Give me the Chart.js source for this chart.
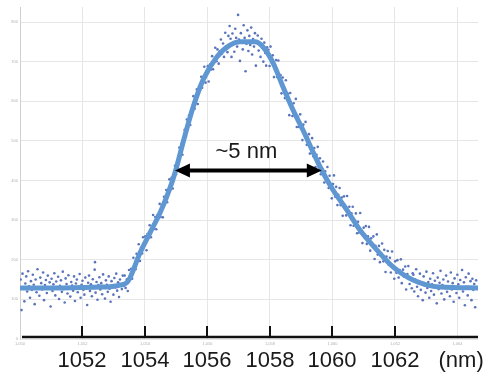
<!DOCTYPE html>
<html lang="en">
<head>
    <meta charset="UTF-8">
    <title>Spectrum FWHM</title>
    <script src="https://cdn.jsdelivr.net/npm/chart.js"></script>
    <style>
        * {
            margin: 0;
            padding: 0;
            box-sizing: border-box;
        }

        body {
            background: white;
        }

        .chart-box {
            width: 486px;
            height: 376px;
        }
    </style>
</head>
<body>
    <div class="chart-box">
        <canvas id="spectrum-chart"></canvas>
    </div>

    <script>
        // axis ticks
        const xTicks = [1050, 1052, 1054, 1056, 1058, 1060, 1062, 1064];
        const yTicks = [0, 100, 200, 300, 400, 500, 600, 700, 800];
        const bigAxisLabels = [1052, 1054, 1056, 1058, 1060, 1062];
        const unitLabel = '(nm)';

        // smooth fit curve (wavelength nm, counts)
        const fitWavelength = [1050.0, 1051.3, 1052.6, 1053.2, 1053.46, 1053.84, 1054.16, 1054.48, 1054.74, 1054.96,
            1055.28, 1055.54, 1055.86, 1056.3, 1056.72, 1057.04, 1057.52, 1057.78, 1058.1, 1058.42,
            1058.74, 1059.06, 1059.38, 1059.66, 1060.02, 1060.46, 1060.88, 1061.42, 1061.94, 1062.58,
            1063.44, 1064.66];
        const fitCounts = [129, 129, 131, 136, 146, 217, 268, 318, 368, 419,
            514, 585, 654, 712, 742, 750, 750, 737, 697, 636,
            578, 527, 472, 426, 376, 326, 275, 225, 182, 149,
            131, 129];

        // measured points, [nm, counts]
        const baseLeftDots = [
            [1050.02, 150], [1050.05, 73], [1050.08, 165], [1050.11, 128], [1050.14, 95], [1050.17, 140], [1050.2, 158],
            [1050.23, 120], [1050.26, 171], [1050.29, 133], [1050.32, 104], [1050.35, 146], [1050.38, 124], [1050.41, 162],
            [1050.44, 137], [1050.47, 88], [1050.5, 150], [1050.53, 118], [1050.56, 176], [1050.59, 130], [1050.62, 109],
            [1050.65, 155], [1050.68, 141], [1050.71, 125], [1050.74, 168], [1050.77, 98], [1050.8, 136], [1050.83, 149],
            [1050.86, 116], [1050.89, 160], [1050.92, 127], [1050.95, 143], [1050.98, 82], [1051.01, 152], [1051.04, 121],
            [1051.07, 138], [1051.1, 166], [1051.13, 110], [1051.16, 145], [1051.19, 131], [1051.22, 157], [1051.25, 101],
            [1051.28, 134], [1051.31, 148], [1051.34, 119], [1051.37, 170], [1051.4, 126], [1051.43, 92], [1051.46, 153],
            [1051.49, 139], [1051.52, 115], [1051.55, 161], [1051.58, 129], [1051.61, 107], [1051.64, 144], [1051.67, 135],
            [1051.7, 122], [1051.73, 158], [1051.76, 96], [1051.79, 140], [1051.82, 150], [1051.85, 118], [1051.88, 132],
            [1051.91, 164], [1051.94, 104], [1051.97, 137], [1052.0, 147], [1052.03, 124], [1052.06, 112], [1052.09, 155],
            [1052.12, 133], [1052.15, 86], [1052.18, 142], [1052.21, 160], [1052.24, 121], [1052.27, 138], [1052.3, 108],
            [1052.33, 151], [1052.36, 129], [1052.39, 175], [1052.4, 194], [1052.42, 117], [1052.45, 144], [1052.48, 99],
            [1052.51, 136], [1052.54, 156], [1052.57, 125], [1052.6, 141], [1052.63, 113], [1052.66, 163], [1052.69, 131],
            [1052.72, 102], [1052.75, 148], [1052.78, 137], [1052.81, 119], [1052.84, 158], [1052.87, 127], [1052.9, 94],
            [1052.93, 146], [1052.96, 135], [1052.99, 112], [1053.02, 154], [1053.05, 130], [1053.08, 165], [1053.11, 122],
            [1053.14, 143], [1053.17, 106], [1053.2, 150], [1053.23, 138], [1053.26, 126], [1053.29, 160], [1053.32, 134]
        ];
        const riseDots = [
            [1053.35, 160], [1053.38, 129], [1053.42, 151], [1053.45, 121], [1053.49, 174], [1053.52, 154], [1053.56, 177],
            [1053.59, 152], [1053.63, 205], [1053.66, 185], [1053.7, 176], [1053.73, 215], [1053.77, 197], [1053.8, 239],
            [1053.84, 197], [1053.87, 230], [1053.91, 216], [1053.94, 257], [1053.98, 238], [1054.01, 259], [1054.05, 224],
            [1054.08, 265], [1054.12, 256], [1054.15, 287], [1054.19, 257], [1054.22, 281], [1054.26, 313], [1054.29, 278],
            [1054.33, 308], [1054.36, 277], [1054.4, 313], [1054.43, 306], [1054.47, 341], [1054.5, 308], [1054.54, 338],
            [1054.57, 307], [1054.61, 359], [1054.64, 347], [1054.68, 376], [1054.71, 345], [1054.75, 375], [1054.78, 403],
            [1054.82, 378], [1054.85, 407], [1054.89, 380], [1054.92, 413], [1054.96, 437], [1054.99, 416], [1055.03, 448],
            [1055.06, 430], [1055.1, 483], [1055.13, 466], [1055.17, 493], [1055.2, 465], [1055.24, 508], [1055.27, 528],
            [1055.31, 511], [1055.34, 554], [1055.38, 538], [1055.41, 564], [1055.45, 540], [1055.48, 578], [1055.52, 573],
            [1055.55, 613], [1055.59, 581], [1055.62, 606], [1055.66, 630], [1055.69, 593], [1055.73, 636], [1055.76, 627],
            [1055.8, 662], [1055.83, 634], [1055.87, 662], [1055.9, 687], [1055.94, 647], [1055.97, 671], [1056.01, 689],
            [1056.04, 650], [1056.08, 693], [1056.11, 680], [1056.15, 714], [1056.18, 681], [1056.22, 706], [1056.25, 735],
            [1056.29, 701], [1056.32, 731], [1056.36, 695], [1056.39, 726], [1056.43, 756], [1056.46, 720], [1056.5, 746],
            [1056.53, 712], [1056.57, 773], [1056.6, 739], [1056.64, 724], [1056.67, 765]
        ];
        const peakDots = [
            [1056.71, 790], [1056.74, 758], [1056.77, 712], [1056.8, 771], [1056.83, 745], [1056.86, 725], [1056.89, 783],
            [1056.92, 760], [1056.95, 738], [1056.98, 818], [1057.01, 756], [1057.04, 702], [1057.07, 772], [1057.1, 748],
            [1057.13, 731], [1057.16, 792], [1057.19, 760], [1057.22, 676], [1057.25, 745], [1057.28, 779], [1057.31, 727],
            [1057.34, 765], [1057.37, 742], [1057.4, 786], [1057.43, 718], [1057.46, 757], [1057.49, 738], [1057.52, 772],
            [1057.55, 690], [1057.58, 750], [1057.61, 766], [1057.64, 728], [1057.67, 745], [1057.7, 712], [1057.73, 758],
            [1057.76, 735], [1057.79, 700], [1057.82, 748], [1057.85, 722], [1057.88, 690], [1057.91, 736]
        ];
        const fallDots = [
            [1057.95, 730], [1057.99, 689], [1058.02, 738], [1058.06, 697], [1058.09, 716], [1058.13, 661], [1058.16, 692],
            [1058.2, 704], [1058.23, 661], [1058.27, 703], [1058.3, 657], [1058.34, 666], [1058.37, 620], [1058.41, 660],
            [1058.44, 636], [1058.48, 608], [1058.51, 653], [1058.55, 604], [1058.58, 619], [1058.62, 565], [1058.65, 621],
            [1058.69, 588], [1058.72, 563], [1058.76, 595], [1058.79, 564], [1058.83, 606], [1058.86, 535], [1058.9, 561],
            [1058.93, 535], [1058.97, 567], [1059.0, 540], [1059.04, 502], [1059.07, 541], [1059.11, 514], [1059.14, 548],
            [1059.18, 490], [1059.21, 509], [1059.25, 517], [1059.28, 468], [1059.32, 484], [1059.35, 507], [1059.39, 461],
            [1059.42, 482], [1059.46, 434], [1059.49, 465], [1059.53, 485], [1059.56, 435], [1059.6, 456], [1059.63, 416],
            [1059.67, 431], [1059.7, 448], [1059.74, 395], [1059.77, 423], [1059.81, 402], [1059.84, 434], [1059.88, 381],
            [1059.91, 412], [1059.95, 387], [1059.98, 355], [1060.02, 391], [1060.05, 413], [1060.09, 359], [1060.12, 384],
            [1060.16, 338], [1060.19, 364], [1060.23, 381], [1060.26, 338], [1060.3, 357], [1060.33, 311], [1060.37, 360],
            [1060.4, 335], [1060.44, 312], [1060.47, 361], [1060.51, 315], [1060.54, 334], [1060.58, 287], [1060.61, 317],
            [1060.65, 334], [1060.68, 286], [1060.72, 299], [1060.75, 317], [1060.79, 267], [1060.82, 296], [1060.86, 269],
            [1060.89, 318], [1060.93, 273], [1060.96, 242], [1061.0, 281], [1061.03, 257], [1061.07, 285], [1061.1, 240],
            [1061.14, 259], [1061.17, 283], [1061.21, 223], [1061.24, 254], [1061.28, 236], [1061.31, 259], [1061.35, 202],
            [1061.38, 235], [1061.42, 264], [1061.45, 213], [1061.49, 235], [1061.52, 194], [1061.56, 216], [1061.59, 241],
            [1061.63, 196], [1061.66, 225], [1061.7, 169], [1061.73, 208], [1061.77, 222], [1061.8, 188], [1061.84, 205],
            [1061.87, 168], [1061.91, 221], [1061.94, 181], [1061.98, 152], [1062.01, 196], [1062.05, 167], [1062.08, 199],
            [1062.12, 155], [1062.15, 174], [1062.19, 201], [1062.22, 141], [1062.26, 175], [1062.29, 157], [1062.33, 183],
            [1062.36, 125], [1062.4, 164], [1062.43, 184], [1062.47, 139], [1062.5, 154], [1062.54, 128], [1062.57, 166]
        ];
        const baseRightDots = [
            [1062.59, 162], [1062.62, 120], [1062.65, 150], [1062.68, 176], [1062.71, 132], [1062.74, 108], [1062.77, 146],
            [1062.8, 165], [1062.83, 124], [1062.86, 140], [1062.89, 98], [1062.92, 158], [1062.95, 135], [1062.98, 117],
            [1063.01, 170], [1063.04, 129], [1063.07, 144], [1063.1, 104], [1063.13, 152], [1063.16, 121], [1063.19, 138],
            [1063.22, 166], [1063.25, 112], [1063.28, 147], [1063.31, 130], [1063.34, 90], [1063.37, 155], [1063.4, 126],
            [1063.43, 142], [1063.46, 172], [1063.49, 115], [1063.52, 136], [1063.55, 150], [1063.58, 100], [1063.61, 128],
            [1063.64, 160], [1063.67, 119], [1063.7, 145], [1063.73, 133], [1063.76, 108], [1063.79, 168], [1063.82, 125],
            [1063.85, 141], [1063.88, 94], [1063.91, 153], [1063.94, 131], [1063.97, 116], [1064.0, 162], [1064.03, 138],
            [1064.06, 104], [1064.09, 149], [1064.12, 127], [1064.15, 174], [1064.18, 120], [1064.21, 143], [1064.24, 85],
            [1064.27, 156], [1064.3, 132], [1064.33, 110], [1064.36, 165], [1064.39, 128], [1064.42, 146], [1064.45, 98],
            [1064.48, 152], [1064.51, 124], [1064.54, 139], [1064.57, 80], [1064.6, 148]
        ];

        // full width at half maximum marker
        const fwhmStart = 1054.96;
        const fwhmEnd = 1059.66;
        const fwhmLevel = 425;
        const fwhmText = '~5 nm';

        const allDots = [...baseLeftDots, ...riseDots, ...peakDots, ...fallDots, ...baseRightDots]
            .map(p => ({ x: p[0], y: p[1] }));
        const fitPoints = fitWavelength.map((w, i) => ({ x: w, y: fitCounts[i] }));

        const bigFont = '22px "Liberation Sans", Arial, sans-serif';

        function drawArrowHead(ctx, tipX, tipY, dir) {
            ctx.beginPath();
            ctx.moveTo(tipX, tipY);
            ctx.lineTo(tipX + dir * 15, tipY - 7);
            ctx.lineTo(tipX + dir * 15, tipY + 7);
            ctx.closePath();
            ctx.fill();
        }

        const overlayPlugin = {
            id: 'overlay',
            afterDraw(chart) {
                const { ctx, chartArea } = chart;
                const x = chart.scales.x;
                const y = chart.scales.y;
                const axisY = chartArea.bottom - 2;

                ctx.save();
                ctx.strokeStyle = '#111';
                ctx.fillStyle = '#1a1a1a';
                ctx.lineWidth = 2.5;
                ctx.beginPath();
                ctx.moveTo(chartArea.left + 2, axisY);
                ctx.lineTo(chartArea.right, axisY);
                ctx.stroke();

                ctx.lineWidth = 2;
                ctx.font = bigFont;
                ctx.textAlign = 'center';
                ctx.textBaseline = 'alphabetic';
                bigAxisLabels.forEach(v => {
                    const px = Math.round(x.getPixelForValue(v));
                    ctx.beginPath();
                    ctx.moveTo(px, axisY);
                    ctx.lineTo(px, axisY - 11);
                    ctx.stroke();
                    ctx.fillText(String(v), px, 367);
                });
                ctx.fillText(unitLabel, x.getPixelForValue(1064.12), 367);

                // FWHM arrow
                const x1 = x.getPixelForValue(fwhmStart);
                const x2 = x.getPixelForValue(fwhmEnd);
                const ay = y.getPixelForValue(fwhmLevel);
                ctx.fillStyle = '#000';
                ctx.strokeStyle = '#000';
                ctx.lineWidth = 4;
                ctx.beginPath();
                ctx.moveTo(x1 + 10, ay);
                ctx.lineTo(x2 - 10, ay);
                ctx.stroke();
                drawArrowHead(ctx, x1, ay, 1);
                drawArrowHead(ctx, x2, ay, -1);

                ctx.fillStyle = '#1a1a1a';
                ctx.fillText(fwhmText, (x1 + x2) / 2 - 2, ay - 13);
                ctx.restore();
            }
        };

        const tinyTicks = {
            color: '#b0b0b0',
            font: { size: 4 },
            padding: 2
        };

        new Chart(document.getElementById('spectrum-chart'), {
            type: 'scatter',
            data: {
                datasets: [
                    {
                        label: 'Fit',
                        data: fitPoints,
                        showLine: true,
                        borderColor: '#5f97d2',
                        borderWidth: 5,
                        pointRadius: 0,
                        cubicInterpolationMode: 'monotone'
                    },
                    {
                        label: 'Measured',
                        data: allDots,
                        backgroundColor: '#5a74bc',
                        borderWidth: 0,
                        pointRadius: 1.3
                    }
                ]
            },
            options: {
                responsive: true,
                maintainAspectRatio: false,
                animation: false,
                layout: {
                    padding: { top: 7, right: 8, left: 0, bottom: 0 }
                },
                plugins: {
                    legend: { display: false },
                    tooltip: { enabled: false }
                },
                scales: {
                    x: {
                        type: 'linear',
                        min: 1050,
                        max: 1064.66,
                        afterBuildTicks: scale => {
                            scale.ticks = xTicks.map(v => ({ value: v }));
                        },
                        afterFit: scale => {
                            scale.height = 37;
                        },
                        ticks: tinyTicks,
                        grid: {
                            color: '#e6e6e6',
                            drawTicks: false
                        },
                        border: { display: false }
                    },
                    y: {
                        min: 0,
                        max: 838,
                        afterBuildTicks: scale => {
                            scale.ticks = yTicks.map(v => ({ value: v }));
                        },
                        afterFit: scale => {
                            scale.width = 20;
                        },
                        ticks: tinyTicks,
                        grid: {
                            color: '#e6e6e6',
                            drawTicks: false
                        },
                        border: { color: '#d0d0d0' }
                    }
                }
            },
            plugins: [overlayPlugin]
        });
    </script>
</body>
</html>
